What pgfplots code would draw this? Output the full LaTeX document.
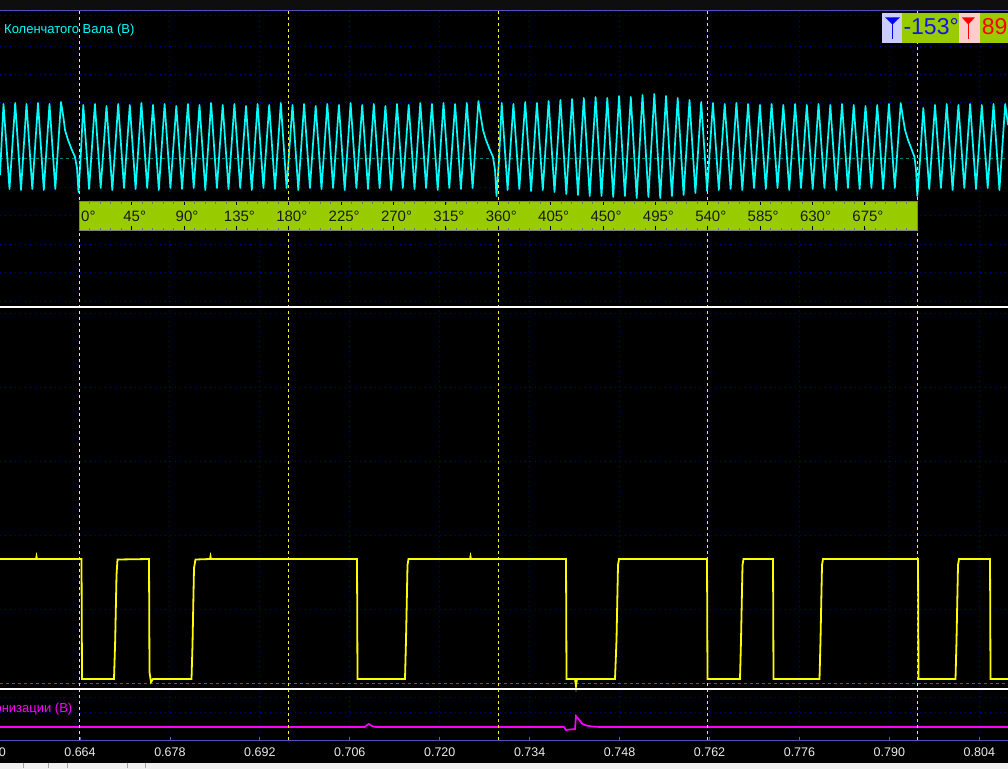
\documentclass[border=0pt]{standalone}
\usepackage{fontspec}
\setmainfont{Liberation Sans}
\usepackage{pgfplots}
\usepackage{pgfplotstable}
\pgfplotsset{compat=1.18}

\definecolor{cyantr}{RGB}{0,255,255}
\definecolor{yeltr}{RGB}{255,255,0}
\definecolor{magtr}{RGB}{255,0,255}
\definecolor{gridnavy}{RGB}{0,0,150}
\definecolor{zeroteal}{RGB}{0,128,128}
\definecolor{framebl}{RGB}{80,80,185}
\definecolor{barg}{RGB}{153,204,0}
\definecolor{lav}{RGB}{204,204,255}
\definecolor{pinkb}{RGB}{255,204,204}
\definecolor{ticklbl}{RGB}{235,235,235}
\definecolor{topstrip}{RGB}{14,14,14}
\definecolor{botstrip}{RGB}{240,240,240}

% x and y in screen pixels (y counted downwards)
% crankshaft sensor (36-1 wheel)
\pgfplotstableread{
x y
0 175
3.5 104
9.5 189
15.2 103
21 190
26.5 104
32.3 189
38 103
43.8 190
49.5 104
55.3 189
61 102
63.5 118
65 130
68 140
71.5 149
75 157
77 168
78.5 192
80.5 160
83.3 105
89.1 189
94.9 104
100.7 188
106.5 106
112.3 190
118.2 104
124.0 188
129.8 105
135.6 189
141.4 103
147.2 188
153.0 105
158.8 190
164.6 104
170.4 188
176.3 106
182.1 189
187.9 104
193.7 188
199.5 105
205.3 190
211.1 103
216.9 188
222.7 105
228.5 189
234.4 104
240.2 188
246.0 106
251.8 190
257.6 104
263.4 188
269.2 105
275.0 189
280.8 103
286.6 188
292.5 105
298.3 190
304.1 104
309.9 188
315.7 106
321.5 189
327.3 104
333.1 188
338.9 105
344.7 190
350.6 103
356.4 188
362.2 105
368.0 189
373.8 104
379.6 188
385.4 106
391.2 190
397.0 104
402.8 188
408.7 105
414.5 189
420.3 103
426.1 188
431.9 104
437.7 190
443.5 103
449.3 188
455.1 104
460.9 189
466.8 103
472.6 188
478.4 101
481 118
483 130
486 140
489.5 149
493 157
495 170
496.5 196
499 160
501.7 103
507.6 190
513.4 104
519.3 189
525.2 102
531.1 191
536.9 103
542.8 190
548.6 101
554.5 192
560.4 100
566.3 194
572.1 99
578.0 195
583.8 98
589.7 196
595.6 97
601.5 196
607.3 98
613.2 197
619.1 96
624.9 196
630.8 97
636.7 198
642.5 95
648.4 197
654.3 94
660.2 198
666.0 96
671.9 196
677.7 98
683.6 195
689.5 100
695.4 193
701.2 102
707.1 191
712.9 103
718.8 190
724.7 104
730.6 189
736.4 103
742.3 190
748.1 104
754.0 188
759.9 105
765.8 189
771.6 104
777.5 188
783.3 105
789.2 190
795.1 104
801.0 188
806.8 105
812.7 189
818.5 104
824.4 188
830.3 105
836.2 190
842.0 104
847.9 188
853.7 105
859.6 189
865.5 106
871.4 188
877.2 105
883.1 189
888.9 104
894.8 188
900.7 103
903 118
905 130
908 140
911.5 149
914.5 157
916 170
917.3 196
920 160
923.3 108
929.2 189
935.0 105
940.9 188
946.7 104
952.6 190
958.4 105
964.3 188
970.1 104
976.0 189
981.8 105
987.7 188
993.5 104
999.4 190
1005.2 104
1008 125
}\crank

% camshaft sensor
\pgfplotstableread{
x y
0 559
36 559
36.5 556.5
37 559
81.5 559
82 679
114 679
115.2 640
116.5 575
117.5 559.5
149 559
149.5 672
151 682
153 679
191.5 679
192.5 645
194 568
195.5 559.5
210 559
210.5 556.5
211 559
357 559
357.5 679
405 679
406 640
407.5 565
408.5 559
470 559
470.5 556.5
471 559
566 559
566.5 679
575 679
576 686
577 679
615 679
616.5 640
618 565
619 559
707 559
707.5 679
740 679
741 640
742.5 565
743.5 559
773 559
773.5 679
819.5 679
820.5 640
822 565
823 559
918 559
918.5 679
955.5 679
956.5 640
958 565
959 559
990 559
990.5 679
1008 679
}\cam

% sync sensor
\pgfplotstableread{
x y
0 727
365 727
367 725
369 724
372 726
376 727
564 727
566 730
570 729.5
575 729
576 716
578 718.5
580.5 721.5
582.5 724
586.5 725.5
592 726.5
600 727
1008 727
}\sync

\begin{document}
\begin{tikzpicture}
\begin{axis}[
    scale only axis, width=1008pt, height=729pt,
    xmin=0, xmax=1008, ymin=11, ymax=740, y dir=reverse,
    axis background/.style={fill=black},
    axis line style={draw=none},
    xtick=\empty, ytick=\empty,
    clip=false,
]
% page area outside the plot box
\coordinate (pageBL) at (axis cs:0,768);
\coordinate (pageTR) at (axis cs:1008,0);
\fill[topstrip] (axis cs:-2,-2) rectangle (axis cs:1010,11);
\fill[black] (axis cs:-2,740) rectangle (axis cs:1010,762.7);
\fill[botstrip] (axis cs:-2,762.7) rectangle (axis cs:1010,770);
\pgfplotsinvokeforeach{23.3,48.3,66.7,126.7,145}{
  \draw[gray!70] (axis cs:#1,762.7) -- (axis cs:#1,768);
}

% dotted grid
\pgfplotsinvokeforeach{15.7,46.7,74,102,131.7,187,215.5,244,272.5,301.3,
                       313,387,461,535,609,697,712}{
  \draw[gridnavy, line width=1pt, dash pattern=on 1pt off 4pt] (axis cs:0,#1) -- (axis cs:1008,#1);
}
\pgfplotsinvokeforeach{169.93,259.86,349.79,439.72,529.65,619.58,709.51,799.44,889.37,979.3}{
  \draw[gridnavy, line width=1pt, dash pattern=on 1pt off 4pt] (axis cs:#1,11) -- (axis cs:#1,740);
}

% zero lines
\draw[zeroteal, line width=1pt, dash pattern=on 3pt off 3pt] (axis cs:0,158.5) -- (axis cs:1008,158.5);
\draw[zeroteal, line width=1pt, dash pattern=on 3pt off 3pt] (axis cs:0,683) -- (axis cs:1008,683);

\addplot[cyantr, line width=1.7pt, line join=round] table[x=x,y=y] {\crank};
\addplot[yeltr, line width=1.8pt] table[x=x,y=y] {\cam};
\addplot[magtr, line width=1.7pt] table[x=x,y=y] {\sync};

% cursors every 180 deg
\pgfplotsinvokeforeach{79.3,288.8,498.3,707.8,917.3}{
  \draw[yeltr, line width=1pt, dash pattern=on 3pt off 3pt] (axis cs:#1,11) -- (axis cs:#1,740);
}

% panel borders
\draw[framebl, line width=1pt] (axis cs:0,11) -- (axis cs:1008,11);
\draw[framebl, line width=1pt] (axis cs:0,740) -- (axis cs:1008,740);
\draw[white, line width=1.2pt] (axis cs:0,307) -- (axis cs:1008,307);
\draw[white, line width=1.2pt] (axis cs:0,689) -- (axis cs:1008,689);

% degree ruler
\fill[barg] (axis cs:79,201) rectangle (axis cs:917.3,230);
\pgfplotsinvokeforeach{0,...,80}{
  \draw[black!55, line width=0.8pt] (axis cs:{79.3+#1*10.475},201) -- (axis cs:{79.3+#1*10.475},203.5);
  \draw[black!55, line width=0.8pt] (axis cs:{79.3+#1*10.475},230) -- (axis cs:{79.3+#1*10.475},227.5);
}
\pgfplotsinvokeforeach{0,45,...,720}{
  \draw[black, line width=0.9pt] (axis cs:{79.3+#1*1.16389},201) -- (axis cs:{79.3+#1*1.16389},205);
  \draw[black, line width=0.9pt] (axis cs:{79.3+#1*1.16389},230) -- (axis cs:{79.3+#1*1.16389},226);
}
\draw[gray, line width=1pt] (axis cs:79,201) rectangle (axis cs:917.3,230);
\node[anchor=base west, inner sep=0pt, font=\fontsize{15}{17}\selectfont, text=black!90] at (axis cs:81,221) {0°};
\pgfplotsinvokeforeach{45,90,...,675}{
  \node[anchor=base, inner sep=0pt, font=\fontsize{15}{17}\selectfont, text=black!90]
    at (axis cs:{79.3+#1*1.16389},221) {#1\rlap{°}};
}

% channel labels
\node[anchor=base west, inner sep=0pt, text=cyantr, font=\fontsize{13}{15}\selectfont]
  at (axis cs:4,33.3) {Коленчатого Вала (В)};
\node[anchor=base east, inner sep=0pt, text=magtr, font=\fontsize{13}{15}\selectfont]
  at (axis cs:72.5,712.7) {Синхронизации (В)};

% cursor readouts
\fill[lav] (axis cs:881.7,12.7) rectangle (axis cs:902.3,42.7);
\fill[barg] (axis cs:902.3,12.7) rectangle (axis cs:959.3,42.7);
\fill[pinkb] (axis cs:959.3,12.7) rectangle (axis cs:980,42.7);
\fill[barg] (axis cs:980,12.7) rectangle (axis cs:1010,42.7);
\fill[blue] (axis cs:885,17.3) -- (axis cs:900,17.3) -- (axis cs:892.5,24.5) -- cycle;
\draw[blue, line width=1.3pt] (axis cs:892.5,22) -- (axis cs:892.5,39.5);
\fill[red] (axis cs:961.7,17.3) -- (axis cs:975,17.3) -- (axis cs:968.3,24.5) -- cycle;
\draw[red, line width=1.3pt] (axis cs:968.3,22) -- (axis cs:968.3,39.5);
\node[anchor=base west, inner sep=0pt, text={rgb,255:red,20;green,20;blue,230}, font=\fontsize{23}{25}\selectfont]
  at (axis cs:903.3,35) {-153°};
\node[anchor=base west, inner sep=0pt, text=red, font=\fontsize{23}{25}\selectfont]
  at (axis cs:981.7,35) {89°};

% time axis
\pgfplotsinvokeforeach{80,169.93,259.86,349.79,439.72,529.65,619.58,709.51,799.44,889.37,979.3}{
  \draw[framebl!70!gray, line width=0.8pt] (axis cs:#1,740) -- (axis cs:#1,736.5);
}
\foreach \p/\l in {-9.93/0.650,80/0.664,169.93/0.678,259.86/0.692,349.79/0.706,439.72/0.720,
                   529.65/0.734,619.58/0.748,709.51/0.762,799.44/0.776,889.37/0.790,979.3/0.804}{
  \edef\temp{\noexpand\node[anchor=base, inner sep=0pt, text=ticklbl, font=\noexpand\fontsize{12.5}{14}\noexpand\selectfont]
    at (axis cs:\p,756) {\l};}
  \temp
}
\end{axis}
\pgfresetboundingbox
\path[use as bounding box] (pageBL) rectangle (pageTR);
\end{tikzpicture}
\end{document}
